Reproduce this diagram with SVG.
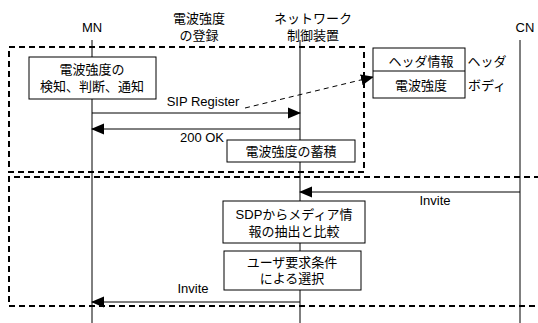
<svg xmlns="http://www.w3.org/2000/svg" width="538" height="323" viewBox="0 0 538 323">
<style>
text{font-family:"Liberation Sans","Noto Sans CJK JP",sans-serif;font-size:13px;fill:#000;text-anchor:middle}
.life{stroke:#000;stroke-width:1;fill:none}
.box{fill:#fff;stroke:#000;stroke-width:1}
.grp{fill:none;stroke:#000;stroke-width:2;stroke-dasharray:6,4}
.msg{stroke:#000;stroke-width:1;fill:none;marker-end:url(#ah)}
.dmsg{stroke:#000;stroke-width:1;fill:none;stroke-dasharray:5,4;marker-end:url(#ah)}
</style>
<defs>
<marker id="ah" markerWidth="13" markerHeight="12" refX="12" refY="6" orient="auto" markerUnits="userSpaceOnUse">
<path d="M0,0.5 L13,6 L0,11.5 Z" fill="#000"/>
</marker>
</defs>
<rect width="538" height="323" fill="#fff"/>
<g id="groups">
<rect class="grp" x="9" y="47" width="355" height="125"/>
<path class="grp" d="M540,177 H9 V306 H540"/>
</g>
<g id="lifelines">
<g id="MN"><text x="92" y="32">MN</text><line class="life" x1="92" y1="40" x2="92" y2="323"/></g>
<g id="NW"><text x="313" y="23">ネットワーク</text><text x="313" y="40">制御装置</text><line class="life" x1="300" y1="40" x2="300" y2="323"/></g>
<g id="CN"><text x="525" y="32">CN</text><line class="life" x1="520" y1="40" x2="520" y2="323"/></g>
<g id="reglabel"><text x="199" y="23">電波強度</text><text x="199" y="40">の登録</text></g>
</g>
<g id="connectors">
<line class="msg" x1="92" y1="113" x2="300" y2="113"/>
<text x="203" y="106">SIP Register</text>
<line class="dmsg" x1="245" y1="108" x2="373" y2="77"/>
<line class="msg" x1="300" y1="129" x2="92" y2="129"/>
<text x="202" y="142">200 OK</text>
<line class="msg" x1="520" y1="192" x2="300" y2="192"/>
<text x="435" y="205">Invite</text>
<line class="msg" x1="300" y1="302" x2="92" y2="302"/>
<text x="193" y="293">Invite</text>
</g>
<g id="detect">
<rect class="box" x="29" y="57" width="127" height="42"/>
<text x="92" y="74">電波強度の</text>
<text x="92" y="91">検知、判断、通知</text>
</g>
<g id="store">
<rect class="box" x="227" y="140" width="128" height="22"/>
<text x="291" y="156">電波強度の蓄積</text>
</g>
<g id="packet">
<rect class="box" x="373" y="48" width="92" height="50"/>
<line class="life" x1="373" y1="71" x2="465" y2="71"/>
<text x="421" y="66">ヘッダ情報</text>
<text x="421" y="90">電波強度</text>
<text x="487" y="66">ヘッダ</text>
<text x="487" y="90">ボディ</text>
</g>
<g id="sdp">
<rect class="box" x="223" y="201" width="142" height="42"/>
<text x="294" y="219">SDPからメディア情</text>
<text x="294" y="236">報の抽出と比較</text>
</g>
<g id="select">
<rect class="box" x="224" y="251" width="137" height="39"/>
<text x="292" y="267">ユーザ要求条件</text>
<text x="292" y="283">による選択</text>
</g>
</svg>
